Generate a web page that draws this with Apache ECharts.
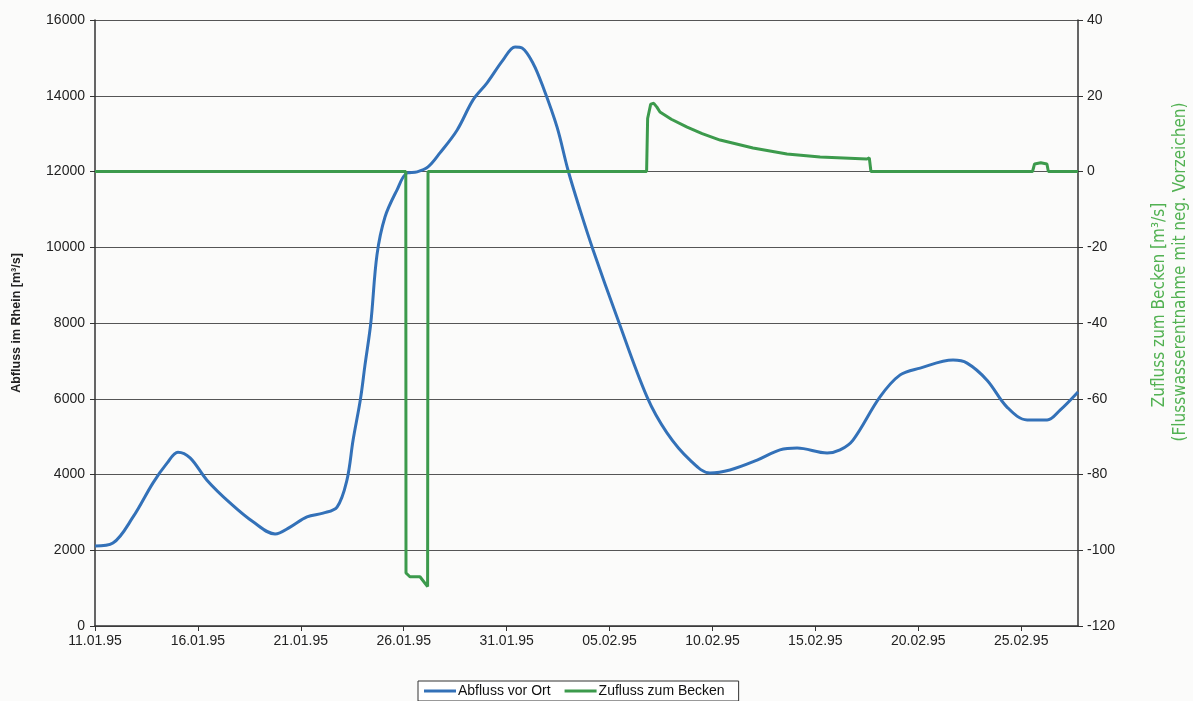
<!DOCTYPE html>
<html>
<head>
<meta charset="utf-8">
<script src="https://cdn.jsdelivr.net/npm/echarts@6/dist/echarts.min.js"></script>
<style>
  html, body { margin: 0; padding: 0; background: #fbfbfa; }
  #echart { width: 1193px; height: 701px; }
</style>
</head>
<body>
<div id="echart"></div>
<script>
var xTickLabels = ['11.01.95', '16.01.95', '21.01.95', '26.01.95', '31.01.95',
  '05.02.95', '10.02.95', '15.02.95', '20.02.95', '25.02.95'];

var abflussTag = [0, 0.87, 1.85, 2.82, 3.5, 4.03, 4.62, 5.44, 6.56, 7.68, 8.75, 9.48,
  10.3, 11.08, 11.76, 12.24, 12.54, 12.9, 13.12, 13.4, 13.7, 14.09, 14.67, 15.16,
  15.65, 16.18, 16.76, 17.59, 18.37, 19.05, 19.82, 20.41, 20.75, 21.28, 21.77,
  22.45, 22.98, 23.57, 24.2, 25.36, 26.82, 27.79, 28.91, 29.88, 30.85, 32.17,
  33.28, 34.11, 35.57, 36.2, 36.83, 38.14, 39.12, 40.09, 41.69, 42.37, 43.34,
  44.31, 45.29, 46.26, 46.89, 47.76];
var abflussWert = [2110, 2190, 2880, 3780, 4300, 4590, 4440, 3850, 3250, 2750, 2430, 2610,
  2880, 2980, 3140, 3850, 4910, 6000, 6900, 8000, 9800, 10800, 11510, 11960,
  11990, 12120, 12490, 13090, 13890, 14340, 14940, 15290, 15260, 14860, 14230,
  13170, 12040, 10980, 9930, 8160, 6050, 5100, 4380, 4040, 4120, 4380,
  4650, 4700, 4570, 4650, 4910, 6050, 6630, 6810, 7020, 6940, 6490,
  5780, 5440, 5440, 5700, 6180];

var zuflussTag = [0, 15.1, 15.11, 15.3, 15.79, 16.16, 16.18, 26.8, 26.85, 27.0, 27.15,
  27.3, 27.45, 28.0, 28.77, 29.5, 30.37, 31.97, 33.62, 35.23, 37.5, 37.62, 37.7,
  45.55, 45.65, 45.95, 46.25, 46.32, 47.76];
var zuflussWert = [0, 0, -106, -107, -107, -109.6, 0, 0, 14, 17.8, 18,
  17, 15.7, 13.8, 11.7, 10, 8.3, 6.2, 4.6, 3.8, 3.3, 3.6, 0,
  0, 2, 2.3, 2, 0, 0];

function pairs(xs, ys) {
  var out = [];
  for (var i = 0; i < xs.length; i++) out.push([xs[i], ys[i]]);
  return out;
}

var myChart = echarts.init(document.getElementById('echart'));
var axisFont = { fontFamily: 'Liberation Sans, Arial, sans-serif', fontSize: 14, color: '#222' };
var rightTitleFont = 'DejaVu Sans Condensed, Liberation Sans, sans-serif';
var option = {
  backgroundColor: '#fbfbfa',
  animation: false,
  grid: { left: 95, right: 115, top: 20, bottom: 75, outerBoundsMode: 'none', containLabel: false },
  legend: {
    left: 418,
    bottom: 0,
    padding: [3, 14, 3, 6],
    itemGap: 14,
    itemWidth: 32,
    itemHeight: 3,
    icon: 'rect',
    borderColor: '#333',
    borderWidth: 1,
    backgroundColor: '#fff',
    textStyle: { fontFamily: 'Liberation Sans, Arial, sans-serif', fontSize: 14, color: '#111', padding: [0, 0, 0, -3] },
    data: ['Abfluss vor Ort', 'Zufluss zum Becken']
  },
  // Titel der rechten Achse, zweizeilig
  graphic: [
    {
      type: 'text',
      x: 1160,
      y: 305,
      rotation: Math.PI / 2,
      style: {
        text: 'Zufluss zum Becken [m³/s]',
        fontFamily: rightTitleFont,
        fontSize: 17,
        fill: '#52b152',
        textAlign: 'center',
        textVerticalAlign: 'middle'
      }
    },
    {
      type: 'text',
      x: 1181,
      y: 272,
      rotation: Math.PI / 2,
      style: {
        text: '(Flusswasserentnahme mit neg. Vorzeichen)',
        fontFamily: rightTitleFont,
        fontSize: 17,
        fill: '#52b152',
        textAlign: 'center',
        textVerticalAlign: 'middle'
      }
    }
  ],
  xAxis: {
    type: 'value',
    min: 0,
    max: 47.76,
    interval: 5,
    axisLine: { lineStyle: { color: '#333', width: 1.5 } },
    axisTick: { show: true, length: 5, lineStyle: { color: '#333' } },
    splitLine: { show: false },
    axisLabel: Object.assign({}, axisFont, {
      margin: 8,
      showMaxLabel: false,
      formatter: function (v) {
        var i = Math.round(v / 5);
        return Math.abs(v - i * 5) < 1e-6 && xTickLabels[i] ? xTickLabels[i] : '';
      }
    })
  },
  yAxis: [
    {
      type: 'value',
      min: 0,
      max: 16000,
      interval: 2000,
      name: 'Abfluss im Rhein [m³/s]',
      nameLocation: 'middle',
      nameGap: 72,
      nameRotate: 90,
      nameTextStyle: { fontFamily: 'Liberation Sans, Arial, sans-serif', fontSize: 12.5, fontWeight: 'bold', color: '#222' },
      axisLine: { show: true, lineStyle: { color: '#333', width: 1.5 } },
      axisTick: { show: true, length: 5, lineStyle: { color: '#333' } },
      splitLine: { show: true, lineStyle: { color: '#555', width: 1.2 } },
      axisLabel: Object.assign({}, axisFont, {
        margin: 10,
        formatter: function (v) { return String(v); }
      })
    },
    {
      type: 'value',
      min: -120,
      max: 40,
      interval: 20,
      position: 'right',
      axisLine: { show: true, lineStyle: { color: '#333', width: 1.5 } },
      axisTick: { show: true, length: 5, lineStyle: { color: '#333' } },
      splitLine: { show: false },
      axisLabel: Object.assign({}, axisFont, {
        margin: 9,
        formatter: function (v) { return String(v); }
      })
    }
  ],
  series: [
    {
      name: 'Abfluss vor Ort',
      type: 'line',
      yAxisIndex: 0,
      smooth: 0.35,
      showSymbol: false,
      lineStyle: { color: '#3371b8', width: 3 },
      itemStyle: { color: '#3371b8' },
      data: pairs(abflussTag, abflussWert)
    },
    {
      name: 'Zufluss zum Becken',
      type: 'line',
      yAxisIndex: 1,
      showSymbol: false,
      lineStyle: { color: '#3c9a4c', width: 3 },
      itemStyle: { color: '#3c9a4c' },
      data: pairs(zuflussTag, zuflussWert)
    }
  ]
};
myChart.setOption(option);
window.addEventListener('resize', function () {
  myChart.resize();
});
</script>
</body>
</html>
